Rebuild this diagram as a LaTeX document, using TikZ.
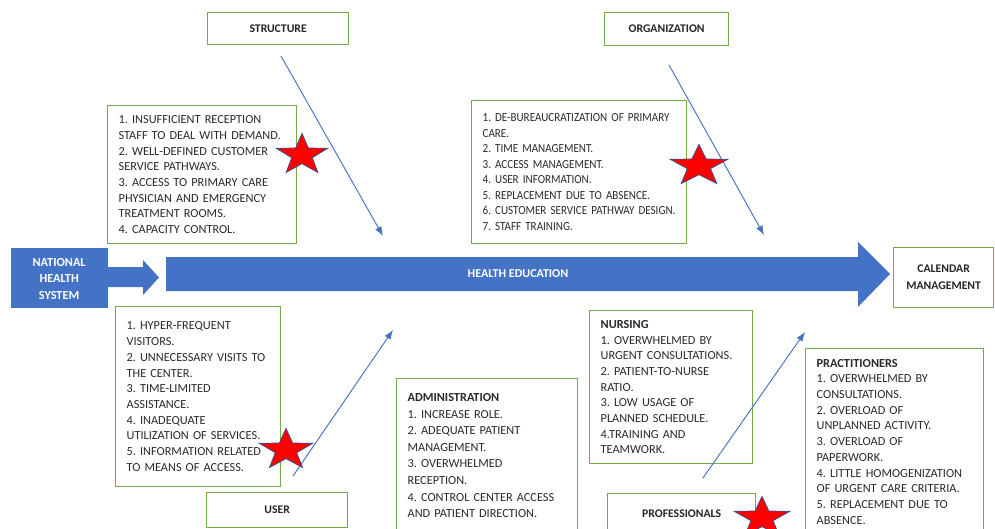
\documentclass[tikz,border=0pt]{standalone}
\usepackage{fontspec}
\setmainfont{Carlito}
\newfontfamily\narrowfont[FakeStretch=0.9]{Carlito}
\usetikzlibrary{arrows.meta,shapes.geometric,positioning}
\definecolor{boxgreen}{HTML}{70AD47}
\definecolor{officeblue}{HTML}{4472C4}
\definecolor{starblue}{HTML}{2F528F}
\definecolor{textgray}{HTML}{2A2A2A}

\tikzset{
  frame/.style={draw=boxgreen, line width=1.1pt, fill=white, anchor=north west},
  titlebox/.style={frame, inner sep=0pt, align=center,
    font=\fontsize{10}{14.5}\selectfont\bfseries, text=black!85},
  listbox/.style={frame, inner xsep=0.33cm, inner ysep=0pt, align=left,
    font=\fontsize{10.5}{13.4}\selectfont\frenchspacing, text=textgray},
  bone/.style={draw=officeblue, line width=0.8pt, -{Latex[length=8pt,width=6pt]}},
  redstar/.style={star, star points=5, star point ratio=2.5, fill=red,
    draw=starblue, line width=0.6pt, minimum size=1.3cm, inner sep=0pt, transform shape}
}

\begin{document}
\begin{tikzpicture}[x=0.03cm, y=-0.03cm]
        \clip (0,0) rectangle (995,529);
        \fill[white] (0,0) rectangle (995,529);

% head and spine
\node[frame, fill=officeblue, draw=none, text=white, align=center, inner sep=0pt,
  minimum width=2.91cm, minimum height=1.8cm, font=\fontsize{10.5}{14}\selectfont\bfseries]
  (nhs) at (10,247) {\rule{0pt}{9pt}NATIONAL\\HEALTH\\SYSTEM};
\fill[officeblue] (107,267) -- (143,267) -- (143,260) -- (159,277.5) -- (143,295)
  -- (143,287) -- (107,287) -- cycle;
\fill[officeblue] (166,257) -- (858,257) -- (858,242) -- (890,274) -- (858,307)
  -- (858,291) -- (166,291) -- cycle;
\node[text=white, font=\fontsize{10.3}{11}\selectfont\bfseries] (spine) at (518,274) {HEALTH EDUCATION};
\node[titlebox, minimum width=3.0cm, minimum height=1.8cm] (calendar) at (893,247) {CALENDAR\\MANAGEMENT};

% cause titles
\node[titlebox, minimum width=4.23cm, minimum height=0.96cm] (structure) at (207,12) {STRUCTURE};
\node[titlebox, minimum width=3.72cm, minimum height=0.99cm] (organization) at (604,12) {ORGANIZATION};
\node[titlebox, minimum width=4.23cm, minimum height=1.05cm] (user) at (206,492) {USER};
\node[titlebox, minimum width=4.44cm, minimum height=1.2cm] (professionals) at (607,493) {PROFESSIONALS};

% cause lists
\node[listbox, text width=5.01cm, minimum height=4.14cm] (structlist) at (107,105)
  {1. INSUFFICIENT RECEPTION\\STAFF TO DEAL WITH DEMAND.\\2. WELL-DEFINED CUSTOMER\\SERVICE PATHWAYS.\\3. ACCESS TO PRIMARY CARE\\PHYSICIAN AND EMERGENCY\\TREATMENT ROOMS.\\4. CAPACITY CONTROL.};
\node[listbox, text width=5.79cm, minimum height=4.29cm,
  font=\narrowfont\fontsize{10.5}{13.2}\selectfont\frenchspacing] (orglist) at (471,100)
  {1. DE-BUREAUCRATIZATION OF PRIMARY\\CARE.\\2. TIME MANAGEMENT.\\3. ACCESS MANAGEMENT.\\4. USER INFORMATION.\\5. REPLACEMENT DUE TO ABSENCE.\\6. CUSTOMER SERVICE PATHWAY DESIGN.\\7. STAFF TRAINING.};
\node[listbox, text width=4.29cm, minimum height=5.4cm] (userlist) at (115,306)
  {1. HYPER-FREQUENT\\VISITORS.\\2. UNNECESSARY VISITS TO\\THE CENTER.\\3. TIME-LIMITED\\ASSISTANCE.\\4. INADEQUATE\\UTILIZATION OF SERVICES.\\5. INFORMATION RELATED\\TO MEANS OF ACCESS.};
\node[listbox, text width=4.77cm, minimum height=4.62cm,
  font=\fontsize{10.5}{14.2}\selectfont\frenchspacing] (adminlist) at (396,378)
  {\textbf{ADMINISTRATION}\\1. INCREASE ROLE.\\2. ADEQUATE PATIENT\\MANAGEMENT.\\3. OVERWHELMED\\RECEPTION.\\4. CONTROL CENTER ACCESS\\AND PATIENT DIRECTION.};
\node[listbox, text width=4.23cm, minimum height=4.59cm] (nurselist) at (589,310)
  {\textbf{NURSING}\\1. OVERWHELMED BY\\URGENT CONSULTATIONS.\\2. PATIENT-TO-NURSE\\RATIO.\\3. LOW USAGE OF\\PLANNED SCHEDULE.\\4.TRAINING AND\\TEAMWORK.};
\node[listbox, text width=4.68cm, minimum height=5.58cm] (practlist) at (805,348)
  {\textbf{PRACTITIONERS}\\1. OVERWHELMED BY\\CONSULTATIONS.\\2. OVERLOAD OF\\UNPLANNED ACTIVITY.\\3. OVERLOAD OF\\PAPERWORK.\\4. LITTLE HOMOGENIZATION\\OF URGENT CARE CRITERIA.\\5. REPLACEMENT DUE TO\\ABSENCE.};

% bones
\coordinate (s1) at (281,56);  \coordinate (s2) at (383,236);
\coordinate (o1) at (669,65);  \coordinate (o2) at (764,235);
\coordinate (u1) at (293,476); \coordinate (u2) at (393,330);
\coordinate (p1) at (703,478); \coordinate (p2) at (805,332);
\draw[bone] (s1) -- (s2);
\draw[bone] (o1) -- (o2);
\draw[bone] (u1) -- (u2);
\draw[bone] (p1) -- (p2);

% stars
\node[redstar, xscale=1.25] (star1) at (302,155) {};
\node[redstar, xscale=1.4] (star2) at (699,166) {};
\node[redstar, xscale=1.3] (star3) at (286,450) {};
\node[redstar, xscale=1.35] (star4) at (762,518) {};
\end{tikzpicture}
\end{document}
